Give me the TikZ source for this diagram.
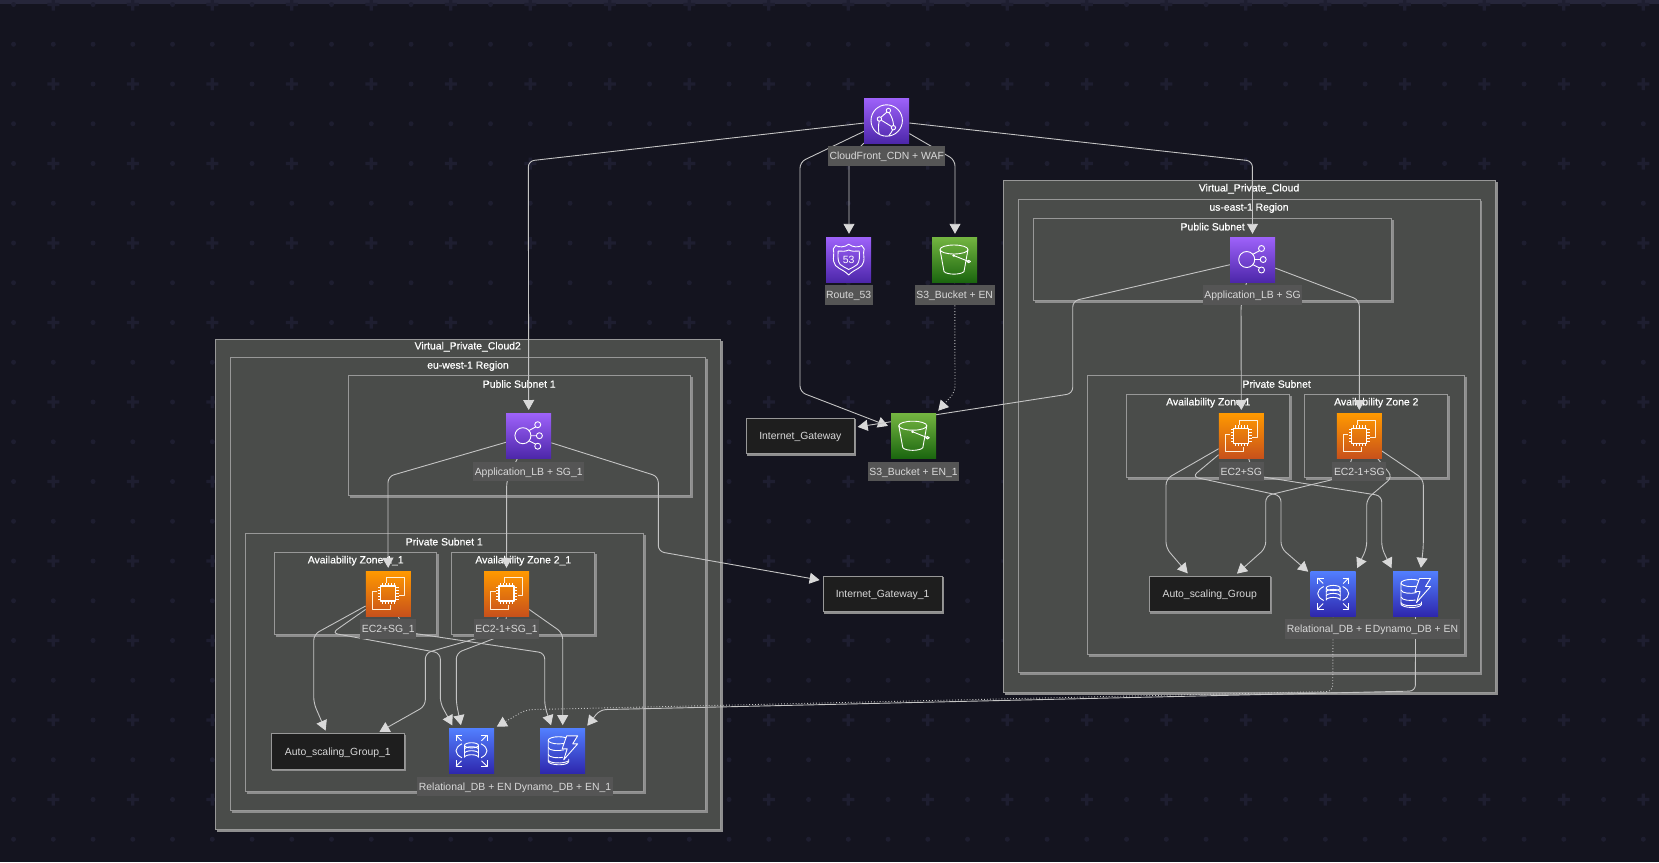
\documentclass[tikz,border=0pt]{standalone}
\usepackage{fontspec}
\usetikzlibrary{arrows.meta}
\setmainfont{Liberation Sans}
\newfontfamily\titlefont[FakeBold=0.6]{Liberation Sans}
\definecolor{pagebg}{HTML}{14141F}
\definecolor{pagedot}{HTML}{1E1E30}
\definecolor{pagetop}{HTML}{26263A}
\definecolor{groupfill}{HTML}{4A4C4A}
\definecolor{groupline}{HTML}{989898}
\definecolor{groupedge}{HTML}{8E8E8E}
\definecolor{labelfill}{HTML}{555555}
\definecolor{linkgrey}{HTML}{C4C4C4}
\definecolor{purple1}{HTML}{9E62FA}
\definecolor{purple2}{HTML}{4D27AA}
\definecolor{green1}{HTML}{74B541}
\definecolor{green2}{HTML}{1B660F}
\definecolor{orange1}{HTML}{FF9900}
\definecolor{orange2}{HTML}{C8511B}
\definecolor{blue1}{HTML}{527FFF}
\definecolor{blue2}{HTML}{2E27AD}
\pgfdeclarelayer{groups}
\pgfdeclarelayer{edges}
\pgfsetlayers{groups,edges,main}
\tikzset{
  groupbox/.style={draw=groupline, fill=groupfill, line width=0.8pt,
    preaction={fill=groupedge, draw=groupedge, transform canvas={xshift=1.4pt, yshift=-1.8pt}}},
  grouptitle/.style={text=white, font=\titlefont\fontsize{10.4}{12}\selectfont, inner sep=0pt, yshift=-0.7pt},
  icon/.style={rectangle, minimum size=45pt, inner sep=0pt, shading=axis, shading angle=-45},
  purpleicon/.style={icon, top color=purple1, bottom color=purple2},
  greenicon/.style={icon, top color=green1, bottom color=green2},
  orangeicon/.style={icon, top color=orange1, bottom color=orange2},
  blueicon/.style={icon, top color=blue1, bottom color=blue2},
  iconlabel/.style={fill=labelfill, text=black!15, font=\fontsize{10.4}{12}\selectfont,
    minimum height=19.5pt, inner xsep=1.6pt, inner ysep=0pt, anchor=north, text height=9pt, text depth=1.5pt},
  plainbox/.style={draw=groupline, fill=black!60!groupfill, text=black!15, line width=0.8pt,
    font=\fontsize{10.4}{12}\selectfont, minimum height=35.5pt, inner sep=0pt, text height=9pt, text depth=1.5pt,
    preaction={fill=groupedge, draw=groupedge, transform canvas={xshift=1.2pt, yshift=-1.6pt}}},
  link/.style={draw=linkgrey, line width=0.9pt, rounded corners=6pt, shorten >=3pt,
    -{Triangle[length=10pt,width=11pt,color=black!15,fill=black!15]}},
  glyph/.style={draw=white, line width=0.9pt, line join=round},
  cfglyph/.pic={
    \draw[glyph] (0,0) circle (15.7);
    \draw[glyph,fill=purple1!60!purple2] (1.7,-10) circle (2.2) (-7.3,-1.5) circle (2.2) (6.7,7.2) circle (2.2);
    \draw[glyph] (-5.8,-3.2) -- (0.2,-8.4) (-5.4,-0.3) -- (4.8,6) (2.4,-7.9) .. controls (5,-4) and (6.5,0) .. (6.9,5)
      (-7.5,0.7) .. controls (-8.5,5) and (-8.5,10) .. (-7.5,13.6) (6,9.3) .. controls (5,11) and (4,13) .. (2,15.5);
  },
  rglyph/.pic={
    \draw[glyph] (0,-15.3) .. controls (-4,-12) and (-10,-12) .. (-13,-14) -- (-15.5,-10.5)
      .. controls (-14,-6) and (-16,-2) .. (-15,2) .. controls (-14,9) and (-6,9) .. (0,15.5)
      .. controls (6,9) and (14,9) .. (15,2) .. controls (16,-2) and (14,-6) .. (15.5,-10.5)
      -- (13,-14) .. controls (10,-12) and (4,-12) .. cycle;
    \draw[glyph] (0,-9.5) .. controls (-3,-8) and (-7,-8) .. (-10.5,-8.5) .. controls (-11,-3) and (-11,2) .. (-8.5,5)
      .. controls (-6,7.5) and (-3,8) .. (0,10) .. controls (3,8) and (6,7.5) .. (8.5,5)
      .. controls (11,2) and (11,-3) .. (10.5,-8.5) .. controls (7,-8) and (3,-8) .. cycle;
    \node[text=white, inner sep=0pt, font=\fontsize{10.5}{11}\selectfont] (rnum) at (0,0.5) {53};
  },
  bucketglyph/.pic={
    \draw[glyph] (-0.7,-10) ellipse (14 and 4.5);
    \draw[glyph] (-14.7,-10) -- (-10.7,12) .. controls (-8,15.5) and (6.5,15.5) .. (9.3,12) -- (13.3,-10);
    \draw[glyph] (-1,-4) -- (14,2);
    \draw[glyph,fill=white] (-1,-4) circle (0.9);
    \draw[glyph] (14,2) ellipse (1.8 and 1.2);
  },
  albglyph/.pic={
    \draw[glyph] (-5.8,0) circle (8);
    \draw[glyph] (9,-11) circle (3) (10.7,0) circle (3) (9,10.5) circle (3);
    \draw[glyph] (2.2,0) -- (7.7,0) (0,-5) -- (7,-8.8) (0,5) -- (7,8.5);
  },
  ec2glyph/.pic={
    \draw[glyph, draw=white!85!orange1] (-1.7,-11) -- (-1.7,-15.7) -- (15.7,-15.7) -- (15.7,1.7) -- (11,1.7);
    \draw[glyph, draw=white!85!orange1] (-11,-1.7) -- (-15.7,-1.7) -- (-15.7,15.7) -- (1.7,15.7) -- (1.7,11);
    \draw[glyph, line width=1.2pt] (-7.5,-7.5) rectangle (7.5,7.5);
    \foreach \p in {-6,-3,0,3,6} {
      \draw[white, line width=0.7pt] (\p,-7.5) -- (\p,-10.5) (\p,7.5) -- (\p,10.5) (-7.5,\p) -- (-10.5,\p) (7.5,\p) -- (10.5,\p);
    }
  },
  rdsglyph/.pic={
    \draw[glyph] (-7,-5.5) arc (180:-180:7 and 2.6);
    \draw[glyph] (-7,-5.5) -- (-7,6.5) arc (180:360:7 and 2.6) -- (7,-5.5);
    \draw[glyph] (-7,-1.5) arc (180:360:7 and 2.6) (-7,2.5) arc (180:360:7 and 2.6);
    \draw[glyph] (-9.5,-7) .. controls (-17.5,-3) and (-17.5,3) .. (-9.5,7) (9.5,-7) .. controls (17.5,-3) and (17.5,3) .. (9.5,7);
    \foreach \sx/\sy in {-1/-1,1/-1,-1/1,1/1} {
      \draw[glyph] (\sx*10,\sy*10) -- (\sx*15.5,\sy*15.5);
      \draw[glyph] (\sx*9.5,\sy*15.5) -- (\sx*15.5,\sy*15.5) -- (\sx*15.5,\sy*9.5);
    }
  },
  dynamoglyph/.pic={
    \draw[glyph] (-4,-10.5) ellipse (10.5 and 3.6);
    \draw[glyph] (-14.5,-10.5) -- (-14.5,10.5) .. controls (-14,14.5) and (4,15.5) .. (6,11) -- (6,8);
    \draw[glyph] (-14.5,-3.5) .. controls (-14,0) and (-4,0.5) .. (1,-1)
      (-14.5,3.5) .. controls (-14,7) and (-4,7.5) .. (0,6.5)
      (-14.5,9) .. controls (-14,12.5) and (0,13.5) .. (6,10);
    \draw[glyph, fill=blue1!50!blue2] (4,-15) -- (15,-15) -- (10,-7) -- (15,-7) -- (1,9) -- (4.5,-2) -- (-0.5,-2) -- cycle;
  }
}
\begin{document}
\begin{tikzpicture}[x=1pt, y=-1pt]
  \useasboundingbox (0,0) rectangle (1659,862);
  \begin{pgfonlayer}{groups}
    \fill[pagebg] (0,0) rectangle (1659,862);
    \fill[pagetop] (0,0) rectangle (1659,4);
    \foreach \i in {0,...,41} {
      \foreach \j in {0,...,21} {
        \pgfmathsetmacro{\gx}{13.55+39.75*\i}
        \pgfmathsetmacro{\gy}{4.5+39.75*\j}
        \pgfmathtruncatemacro{\crossme}{(mod(\i,2)==1 && mod(\j,2)==0) ? 1 : 0}
        \ifnum\crossme=1
          \fill[pagedot] (\gx-6,\gy-1.6) rectangle (\gx+6,\gy+1.6) (\gx-1.6,\gy-6) rectangle (\gx+1.6,\gy+6);
        \else
          \fill[pagedot] (\gx,\gy) circle (2.5);
        \fi
      }
    }

    \draw[groupbox] (1003.3,180) rectangle (1495.7,692.3);
    \draw[groupbox] (1018.3,199.3) rectangle (1480,672.3);
    \draw[groupbox] (1033.3,218.3) rectangle (1391.3,300.7);
    \draw[groupbox] (1087.7,375.7) rectangle (1464.5,654);
    \draw[groupbox] (1126.7,394.3) rectangle (1289.7,477.3);
    \draw[groupbox] (1304.7,394.3) rectangle (1447.3,477.3);
    \node[grouptitle] (vpctitle) at (1249,188) {Virtual\_Private\_Cloud};
    \node[grouptitle] (regiontitle) at (1249,207.3) {us-east-1 Region};
    \node[grouptitle] (pubtitle) at (1212.7,226) {Public Subnet};
    \node[grouptitle] (privtitle) at (1276.7,383.3) {Private Subnet};
    \node[grouptitle] (azatitle) at (1208.3,402) {Availability Zone 1};
    \node[grouptitle] (azbtitle) at (1376.3,402) {Availability Zone 2};

    \draw[groupbox] (215.3,339) rectangle (720.7,829);
    \draw[groupbox] (230.7,357.3) rectangle (705.7,810.7);
    \draw[groupbox] (348.7,375.3) rectangle (690.3,495);
    \draw[groupbox] (245.3,533.3) rectangle (643.3,791.7);
    \draw[groupbox] (274.3,552.3) rectangle (436.7,634);
    \draw[groupbox] (451.7,552.3) rectangle (594.3,634);
    \node[grouptitle] (vpcbtitle) at (467.7,346) {Virtual\_Private\_Cloud2};
    \node[grouptitle] (regionbtitle) at (468,365.3) {eu-west-1 Region};
    \node[grouptitle] (pubbtitle) at (519.3,383.3) {Public Subnet 1};
    \node[grouptitle] (privbtitle) at (444.3,541) {Private Subnet 1};
    \node[grouptitle] (azctitle) at (355.7,560) {Availability Zone 1\_1};
    \node[grouptitle] (azdtitle) at (523.3,560) {Availability Zone 2\_1};
  \end{pgfonlayer}

  \node[purpleicon] (cdn) at (886.7,120.5) {};
  \node[purpleicon] (route) at (848.7,259.5) {};
  \node[greenicon] (bucket) at (954.7,259.5) {};
  \node[greenicon] (bucketb) at (913.5,435.7) {};
  \node[purpleicon] (alb) at (1252.5,259.5) {};
  \node[orangeicon] (ec) at (1241.3,435.7) {};
  \node[orangeicon] (ecb) at (1359.3,435.7) {};
  \node[blueicon] (rds) at (1333.2,593.5) {};
  \node[blueicon] (dyn) at (1415.5,593.5) {};
  \node[purpleicon] (albb) at (528.7,435.7) {};
  \node[orangeicon] (ecc) at (388.3,593.5) {};
  \node[orangeicon] (ecd) at (506.5,593.5) {};
  \node[blueicon] (rdsb) at (471.5,750.8) {};
  \node[blueicon] (dynb) at (562.7,750.8) {};

  \pic at (cdn) {cfglyph};
  \pic at (route) {rglyph};
  \pic at (bucket) {bucketglyph};
  \pic at (bucketb) {bucketglyph};
  \pic at (alb) {albglyph};
  \pic at (albb) {albglyph};
  \foreach \n in {ec,ecb,ecc,ecd} {
    \pic at (\n) {ec2glyph};
  }
  \pic at (rds) {rdsglyph};
  \pic at (rdsb) {rdsglyph};
  \pic at (dyn) {dynamoglyph};
  \pic at (dynb) {dynamoglyph};

  \node[iconlabel] (cdnlabel) at ([yshift=-3pt]cdn.south) {CloudFront\_CDN + WAF};
  \node[iconlabel] (routelabel) at ([yshift=-3pt]route.south) {Route\_53};
  \node[iconlabel] (bucketlabel) at ([yshift=-3pt]bucket.south) {S3\_Bucket + EN};
  \node[iconlabel] (bucketblabel) at ([yshift=-3pt]bucketb.south) {S3\_Bucket + EN\_1};
  \node[iconlabel] (alblabel) at ([yshift=-3pt]alb.south) {Application\_LB + SG};
  \node[iconlabel] (eclabel) at ([yshift=-3pt]ec.south) {EC2+SG};
  \node[iconlabel] (ecblabel) at ([yshift=-3pt]ecb.south) {EC2-1+SG};
  \node[iconlabel] (rdslabel) at ([yshift=-3pt]rds.south) {Relational\_DB + EN};
  \node[iconlabel] (dynlabel) at ([yshift=-3pt]dyn.south) {Dynamo\_DB + EN};
  \node[iconlabel] (albblabel) at ([yshift=-3pt]albb.south) {Application\_LB + SG\_1};
  \node[iconlabel] (ecclabel) at ([yshift=-3pt]ecc.south) {EC2+SG\_1};
  \node[iconlabel] (ecdlabel) at ([yshift=-3pt]ecd.south) {EC2-1+SG\_1};
  \node[iconlabel] (rdsblabel) at ([xshift=-6.2pt,yshift=-3pt]rdsb.south) {Relational\_DB + EN};
  \node[iconlabel] (dynblabel) at ([yshift=-3pt]dynb.south) {Dynamo\_DB + EN\_1};

  \node[plainbox, minimum width=108pt] (igw) at (800.3,435.8) {Internet\_Gateway};
  \node[plainbox, minimum width=119.3pt] (igwb) at (882.6,593.7) {Internet\_Gateway\_1};
  \node[plainbox, minimum width=120.7pt] (asg) at (1209.7,593.8) {Auto\_scaling\_Group};
  \node[plainbox, minimum width=132.3pt] (asgb) at (337.8,751.5) {Auto\_scaling\_Group\_1};

  \begin{pgfonlayer}{edges}
    \draw[link] (cdn) -- (528.3,161) -- (albb.north);
    \draw[link] (cdn) -- (1252.4,161) -- (alb.north);
    \draw[link] (cdn) -- (849,158) -- ([xshift=0.3pt]route.north);
    \draw[link] (cdn) -- (955,160) -- ([xshift=0.3pt]bucket.north);
    \draw[link] (cdn) -- (800,162) -- (800,392) -- (bucketb);
    \draw[link, dotted] (bucket) -- (955,392) -- (bucketb.north east);

    \draw[link] (alb) -- (1241,304) -- (ec.north);
    \draw[link] (alb) -- (1359.3,300) -- (ecb.north);
    \draw[link] (alb) -- (1072.7,301) -- (1072.7,393.5) -- (igw);

    \draw[link] (ec) -- (1166,479) -- (1166,548) -- ([xshift=-20pt]asg.north);
    \draw[link] (ec) -- (1192.3,476.7) -- (1281,495.7) -- (1281,548) -- (rds);
    \draw[link] (ec) -- (1254,475.5) -- (1381.7,495.8) -- (1381.7,548) -- (dyn.north west);
    \draw[link] (ecb) -- (1346,476.3) -- (1265.7,495.8) -- (1265.7,548) -- ([xshift=25pt]asg.north);
    \draw[link] (ecb) -- (1392.5,477) -- (1366.7,499) -- (1366.7,548) -- (rds.north east);
    \draw[link] (ecb) -- (1423.3,479) -- (1423.3,548) -- ([xshift=5pt]dyn.north);

    \draw[link] (albb) -- (388,476.5) -- (388,560) -- (ecc.north);
    \draw[link] (albb) -- (506.7,480) -- (ecd.north);
    \draw[link] (albb) -- (658.3,476.5) -- (658.3,551.5) -- ([yshift=-5pt]igwb.north west);

    \draw[link] (ecc) -- (313.7,634.5) -- (313.7,703) -- ([xshift=-11pt]asgb.north);
    \draw[link] (ecc) -- (332,633) -- (440.3,653) -- (440.3,703) -- ([xshift=5pt]rdsb.north west);
    \draw[link] (ecc) -- (405,632) -- (544.7,653) -- (544.7,706) -- ([xshift=12pt]dynb.north west);
    \draw[link] (ecd) -- (492,634) -- (425.3,653) -- (425.3,706) -- ([xshift=39pt]asgb.north);
    \draw[link] (ecd) -- (506,634) -- (456.3,653) -- (456.3,703) -- ([xshift=-10pt]rdsb.north);
    \draw[link] (ecd) -- (562.7,633) -- (dynb.north);

    \draw[link] (dyn) -- (1415.4,691) -- (600,709.7) -- (dynb.north east);
    \draw[link, dotted] (rds) -- (1332.7,691.4) -- (526,709.7) -- (rdsb.north east);
  \end{pgfonlayer}
\end{tikzpicture}
\end{document}
